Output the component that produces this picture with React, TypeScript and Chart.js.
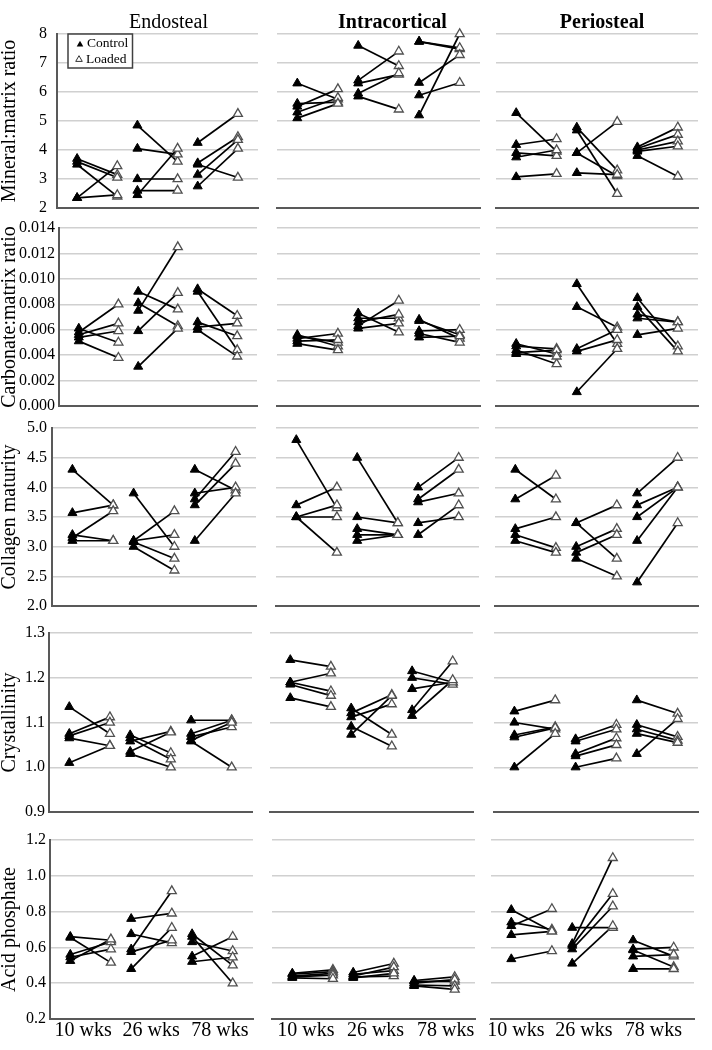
import React, { useEffect, useRef } from "react";
import { Chart, registerables } from "chart.js";

Chart.register(...registerables);

// ---------- labels ----------
const AGES = ["10 wks", "26 wks", "78 wks"];
const REGIONS = ["Endosteal", "Intracortical", "Periosteal"];
const MEASURES = [
  "Mineral:matrix ratio",
  "Carbonate:matrix ratio",
  "Collagen maturity",
  "Crystallinity",
  "Acid phosphate",
];
const LEGEND_LABELS = ["Control", "Loaded"];

// ---------- y-axis ticks ----------
const MINERAL_TICKS = [2, 3, 4, 5, 6, 7, 8];
const CARBONATE_TICKS = [0, 0.002, 0.004, 0.006, 0.008, 0.01, 0.012, 0.014];
const COLLAGEN_TICKS = [2.0, 2.5, 3.0, 3.5, 4.0, 4.5, 5.0];
const CRYSTAL_TICKS = [0.9, 1.0, 1.1, 1.2, 1.3];
const ACID_TICKS = [0.2, 0.4, 0.6, 0.8, 1.0, 1.2];
const TICK_DECIMALS = [0, 3, 1, 1, 1];

// ---------- data: [10 wks, 26 wks, 78 wks]; control[i] pairs with loaded[i] ----------
const MINERAL_ENDO_CONTROL = [[3.7, 3.6, 3.5, 2.35, 2.35], [4.85, 4.05, 3.0, 2.6, 2.45], [4.25, 3.55, 3.5, 3.15, 2.75]];
const MINERAL_ENDO_LOADED = [[3.15, 3.05, 2.4, 3.45, 2.45], [3.6, 3.85, 3.0, 2.6, 4.05], [5.25, 4.45, 3.05, 4.35, 4.05]];
const MINERAL_INTRA_CONTROL = [[6.3, 5.6, 5.5, 5.3, 5.1], [7.6, 6.4, 6.3, 5.95, 5.85], [7.74, 7.74, 6.32, 5.89, 5.2]];
const MINERAL_INTRA_LOADED = [[5.75, 5.65, 6.1, 5.8, 5.6], [6.9, 7.4, 6.6, 6.65, 5.4], [7.48, 7.52, 7.28, 6.32, 8.0]];
const MINERAL_PERI_CONTROL = [[5.28, 4.18, 3.9, 3.75, 3.07], [4.78, 4.68, 3.9, 3.9, 3.21], [4.1, 4.05, 4.0, 3.95, 3.8]];
const MINERAL_PERI_LOADED = [[3.95, 4.38, 3.8, 4.0, 3.18], [3.3, 2.49, 4.97, 3.1, 3.15], [4.78, 4.53, 4.3, 4.13, 3.09]];

const CARB_ENDO_CONTROL = [[0.0061, 0.0058, 0.0056, 0.0054, 0.0051], [0.009, 0.0081, 0.0075, 0.0059, 0.0031], [0.0092, 0.009, 0.0066, 0.0062, 0.006]];
const CARB_ENDO_LOADED = [[0.005, 0.008, 0.0065, 0.0059, 0.0038], [0.0076, 0.0063, 0.0125, 0.0089, 0.0061], [0.0071, 0.0044, 0.0055, 0.0065, 0.0039]];
const CARB_INTRA_CONTROL = [[0.0056, 0.0055, 0.0053, 0.0051, 0.0049], [0.0073, 0.0069, 0.0066, 0.0063, 0.0061], [0.0068, 0.0067, 0.0059, 0.0057, 0.0054]];
const CARB_INTRA_LOADED = [[0.0047, 0.005, 0.0057, 0.0052, 0.0044], [0.0058, 0.0069, 0.0072, 0.0083, 0.0065], [0.0053, 0.0056, 0.006, 0.005, 0.0055]];
const CARB_PERI_CONTROL = [[0.0049, 0.0047, 0.0044, 0.0042, 0.0041], [0.0096, 0.0078, 0.0045, 0.0043, 0.0011], [0.0085, 0.0078, 0.0072, 0.0069, 0.0056]];
const CARB_PERI_LOADED = [[0.0041, 0.0045, 0.0033, 0.0044, 0.0039], [0.0049, 0.0062, 0.006, 0.0052, 0.0045], [0.0047, 0.0043, 0.0066, 0.0066, 0.0061]];

const COLL_ENDO_CONTROL = [[4.3, 3.57, 3.2, 3.15, 3.1], [3.9, 3.1, 3.1, 3.08, 3.0], [4.3, 3.9, 3.8, 3.7, 3.1]];
const COLL_ENDO_LOADED = [[3.7, 3.7, 3.1, 3.6, 3.1], [3.0, 3.6, 3.2, 2.8, 2.6], [3.95, 4.0, 4.6, 4.4, 3.9]];
const COLL_INTRA_CONTROL = [[4.8, 3.7, 3.5, 3.5, 3.5], [4.5, 3.5, 3.3, 3.2, 3.1], [4.0, 3.8, 3.75, 3.4, 3.2]];
const COLL_INTRA_LOADED = [[3.65, 4.0, 3.7, 3.5, 2.9], [3.4, 3.4, 3.2, 3.2, 3.2], [4.5, 4.3, 3.9, 3.5, 3.7]];
const COLL_PERI_CONTROL = [[4.3, 3.8, 3.3, 3.2, 3.1], [3.4, 3.4, 3.0, 2.9, 2.8], [3.9, 3.7, 3.5, 3.1, 2.4]];
const COLL_PERI_LOADED = [[3.8, 4.2, 3.5, 2.98, 2.9], [3.7, 2.8, 3.3, 3.2, 2.5], [4.5, 4.0, 4.0, 4.0, 3.4]];

const CRYS_ENDO_CONTROL = [[1.135, 1.075, 1.07, 1.065, 1.01], [1.072, 1.065, 1.058, 1.035, 1.03], [1.105, 1.075, 1.068, 1.06, 1.058]];
const CRYS_ENDO_LOADED = [[1.075, 1.112, 1.1, 1.048, 1.048], [1.032, 1.018, 1.08, 1.078, 1.0], [1.105, 1.105, 1.09, 1.1, 1.0]];
const CRYS_INTRA_CONTROL = [[1.24, 1.19, 1.19, 1.185, 1.155], [1.132, 1.121, 1.112, 1.091, 1.073], [1.215, 1.2, 1.175, 1.128, 1.115]];
const CRYS_INTRA_LOADED = [[1.225, 1.21, 1.17, 1.16, 1.135], [1.073, 1.162, 1.141, 1.047, 1.16], [1.19, 1.185, 1.19, 1.237, 1.195]];
const CRYS_PERI_CONTROL = [[1.125, 1.1, 1.072, 1.067, 1.0], [1.063, 1.058, 1.03, 1.025, 1.0], [1.15, 1.095, 1.085, 1.075, 1.03]];
const CRYS_PERI_LOADED = [[1.15, 1.085, 1.09, 1.088, 1.075], [1.095, 1.085, 1.065, 1.05, 1.02], [1.12, 1.068, 1.06, 1.055, 1.108]];

const ACID_ENDO_CONTROL = [[0.66, 0.655, 0.56, 0.545, 0.525], [0.76, 0.675, 0.59, 0.575, 0.48], [0.675, 0.66, 0.63, 0.55, 0.52]];
const ACID_ENDO_LOADED = [[0.64, 0.515, 0.63, 0.59, 0.645], [0.79, 0.625, 0.915, 0.64, 0.71], [0.5, 0.4, 0.58, 0.66, 0.545]];
const ACID_INTRA_CONTROL = [[0.455, 0.45, 0.44, 0.435, 0.43], [0.46, 0.45, 0.44, 0.435, 0.43], [0.415, 0.41, 0.4, 0.39, 0.385]];
const ACID_INTRA_LOADED = [[0.475, 0.465, 0.455, 0.445, 0.425], [0.51, 0.47, 0.49, 0.44, 0.455], [0.435, 0.41, 0.42, 0.385, 0.365]];
const ACID_PERI_CONTROL = [[0.81, 0.74, 0.72, 0.67, 0.535], [0.71, 0.62, 0.61, 0.59, 0.51], [0.64, 0.59, 0.585, 0.55, 0.48]];
const ACID_PERI_LOADED = [[0.69, 0.7, 0.815, 0.69, 0.58], [0.71, 1.1, 0.9, 0.83, 0.72], [0.55, 0.6, 0.49, 0.56, 0.48]];

// ---------- tables built from the arrays ----------
const ROW_TICKS = [MINERAL_TICKS, CARBONATE_TICKS, COLLAGEN_TICKS, CRYSTAL_TICKS, ACID_TICKS];
const PANELS = [
  [[MINERAL_ENDO_CONTROL, MINERAL_ENDO_LOADED], [MINERAL_INTRA_CONTROL, MINERAL_INTRA_LOADED], [MINERAL_PERI_CONTROL, MINERAL_PERI_LOADED]],
  [[CARB_ENDO_CONTROL, CARB_ENDO_LOADED], [CARB_INTRA_CONTROL, CARB_INTRA_LOADED], [CARB_PERI_CONTROL, CARB_PERI_LOADED]],
  [[COLL_ENDO_CONTROL, COLL_ENDO_LOADED], [COLL_INTRA_CONTROL, COLL_INTRA_LOADED], [COLL_PERI_CONTROL, COLL_PERI_LOADED]],
  [[CRYS_ENDO_CONTROL, CRYS_ENDO_LOADED], [CRYS_INTRA_CONTROL, CRYS_INTRA_LOADED], [CRYS_PERI_CONTROL, CRYS_PERI_LOADED]],
  [[ACID_ENDO_CONTROL, ACID_ENDO_LOADED], [ACID_INTRA_CONTROL, ACID_INTRA_LOADED], [ACID_PERI_CONTROL, ACID_PERI_LOADED]],
];

// ---------- layout (positions on x scale 0..10, page pixels) ----------
const CONTROL_X = [1, 4, 7];
const LOADED_X = [3, 6, 9];
const X_LABEL_POS = [[1.63, 4.98, 8.37], [1.67, 5.1, 8.55], [1.23, 4.58, 8.0]];
const PLOT_Y = [[34, 208], [228, 406], [428, 606], [633, 812], [840, 1019]];
const PLOT_X = [
  [[57, 258], [277, 480], [496, 698]],
  [[59, 257], [277, 480], [496, 698]],
  [[52, 256], [276, 479], [495, 698]],
  [[49, 252], [270, 473], [494, 698]],
  [[50, 253], [272, 475], [491, 694]],
];
const Y_TICK_PAD = [10, 4, 5, 4, 4];
const TITLE_DX = [11, 14, 5];

const SERIF = "'Liberation Serif', 'DejaVu Serif', serif";
const GRID = "#d0d0d0";
const AXIS = "#595959";

const decorPlugin = {
  id: "panelDecor",
  afterDraw(chart: any, _args: any, opts: any) {
    const { ctx, chartArea } = chart;
    if (opts.title) {
      ctx.save();
      ctx.font = `${opts.bold ? "bold " : ""}20px ${SERIF}`;
      ctx.fillStyle = "#000";
      ctx.textAlign = "center";
      ctx.textBaseline = "alphabetic";
      ctx.fillText(opts.title, (chartArea.left + chartArea.right) / 2 + opts.dx, chartArea.top - 6.5);
      ctx.restore();
    }
    if (opts.legend) {
      const bx = chartArea.left + 11;
      const by = chartArea.top;
      ctx.save();
      ctx.fillStyle = "#fff";
      ctx.fillRect(bx, by, 64.5, 34);
      ctx.strokeStyle = "#404040";
      ctx.lineWidth = 1.5;
      ctx.strokeRect(bx, by, 64.5, 34);
      const tri = (cx: number, cy: number, filled: boolean) => {
        const r = 3.8;
        ctx.beginPath();
        ctx.moveTo(cx, cy - r);
        ctx.lineTo(cx + r * 0.866, cy + r * 0.5);
        ctx.lineTo(cx - r * 0.866, cy + r * 0.5);
        ctx.closePath();
        if (filled) {
          ctx.fillStyle = "#000";
          ctx.fill();
        } else {
          ctx.fillStyle = "#fff";
          ctx.fill();
          ctx.strokeStyle = "#333";
          ctx.lineWidth = 1;
          ctx.stroke();
        }
      };
      tri(bx + 12, by + 10.5, true);
      tri(bx + 11, by + 25.5, false);
      ctx.fillStyle = "#000";
      ctx.font = `13.5px ${SERIF}`;
      ctx.textAlign = "left";
      ctx.textBaseline = "middle";
      ctx.fillText(LEGEND_LABELS[0], bx + 19, by + 9);
      ctx.fillText(LEGEND_LABELS[1], bx + 18, by + 25);
      ctx.restore();
    }
  },
};

function Panel({ row, col }: { row: number; col: number }) {
  const ref = useRef<HTMLCanvasElement | null>(null);
  const [plotL, plotR] = PLOT_X[row][col];
  const [plotT, plotB] = PLOT_Y[row];
  const canvasL = col === 0 ? 0 : plotL - 8;
  const padL = col === 0 ? 0 : 8;
  const yW = col === 0 ? plotL : 0;
  const padR = 8;
  const canvasW = plotR + padR - canvasL;
  const topMargin = row === 0 ? plotT : 24;
  const canvasT = plotT - topMargin;
  const bottomMargin = row === 4 ? 30 : 22;
  const xH = row === 4 ? 26 : 0;
  const padB = bottomMargin - xH;
  const canvasH = plotB + bottomMargin - canvasT;

  useEffect(() => {
    const ticks = ROW_TICKS[row];
    const yMin = ticks[0];
    const yMax = ticks[ticks.length - 1];
    const [control, loaded] = PANELS[row][col];
    const datasets: any[] = [];
    const ctrlPts: any[] = [];
    const loadPts: any[] = [];
    control.forEach((vals: number[], a: number) => {
      vals.forEach((v: number, i: number) => {
        const p0 = { x: CONTROL_X[a], y: v };
        const p1 = { x: LOADED_X[a], y: loaded[a][i] };
        ctrlPts.push(p0);
        loadPts.push(p1);
        datasets.push({
          data: [p0, p1],
          borderColor: "#000",
          borderWidth: 1.7,
          pointRadius: 0,
          order: 2,
          clip: false,
        });
      });
    });
    datasets.push({
      label: LEGEND_LABELS[0],
      data: ctrlPts,
      showLine: false,
      pointStyle: "triangle",
      pointRadius: 5.2,
      pointBackgroundColor: "#000",
      pointBorderColor: "#000",
      pointBorderWidth: 1,
      order: 1,
      clip: false,
    });
    datasets.push({
      label: LEGEND_LABELS[1],
      data: loadPts,
      showLine: false,
      pointStyle: "triangle",
      pointRadius: 5.2,
      pointBackgroundColor: "#fff",
      pointBorderColor: "#505050",
      pointBorderWidth: 1.3,
      order: 0,
      clip: false,
    });

    const chart = new Chart(ref.current as HTMLCanvasElement, {
      type: "line",
      data: { datasets },
      plugins: [decorPlugin],
      options: {
        responsive: false,
        animation: false,
        devicePixelRatio: 1,
        events: [],
        layout: { padding: { left: padL, right: padR, top: topMargin, bottom: padB } },
        plugins: {
          legend: { display: false },
          tooltip: { enabled: false },
          panelDecor: {
            title: row === 0 ? REGIONS[col] : "",
            bold: col !== 0,
            dx: TITLE_DX[col],
            legend: row === 0 && col === 0,
          },
        } as any,
        scales: {
          x: {
            type: "linear",
            min: 0,
            max: 10,
            afterBuildTicks: (s: any) => {
              s.ticks = X_LABEL_POS[col].map((v) => ({ value: v }));
            },
            afterFit: (s: any) => {
              s.height = xH;
            },
            grid: { display: false, drawTicks: false, tickLength: 0 },
            border: { display: true, color: AXIS, width: 2 },
            ticks: {
              display: row === 4,
              autoSkip: false,
              maxRotation: 0,
              padding: 2,
              color: "#000",
              font: { family: SERIF, size: 20, lineHeight: 1 },
              callback: (_v: any, i: number) => AGES[i],
            },
          },
          y: {
            type: "linear",
            min: yMin,
            max: yMax,
            afterBuildTicks: (s: any) => {
              s.ticks = ticks.map((v) => ({ value: v }));
            },
            afterFit: (s: any) => {
              s.width = yW;
            },
            grid: {
              color: (c: any) => (c.tick && Math.abs(c.tick.value - yMin) < 1e-9 ? "rgba(0,0,0,0)" : GRID),
              lineWidth: 1.5,
              drawTicks: false,
              tickLength: 0,
            },
            border: { display: col === 0, color: AXIS, width: 2 },
            ticks: {
              display: col === 0,
              padding: Y_TICK_PAD[row],
              color: "#000",
              font: { family: SERIF, size: 16 },
              callback: (v: any) => Number(v).toFixed(TICK_DECIMALS[row]),
            },
            title: {
              display: col === 0,
              text: MEASURES[row],
              color: "#000",
              font: { family: SERIF, size: 20, lineHeight: 1 },
              padding: 0,
            },
          },
        },
      } as any,
    });
    return () => chart.destroy();
  }, [row, col]);

  return (
    <canvas
      ref={ref}
      width={canvasW}
      height={canvasH}
      style={{ position: "absolute", left: canvasL, top: canvasT, width: canvasW, height: canvasH }}
    />
  );
}

export default function App() {
  const cells: React.ReactNode[] = [];
  for (let r = 0; r < 5; r++) {
    for (let c = 0; c < 3; c++) {
      cells.push(<Panel key={`${r}-${c}`} row={r} col={c} />);
    }
  }
  return (
    <div
      style={{
        position: "absolute",
        left: 0,
        top: 0,
        width: 712,
        height: 1050,
        background: "#fff",
        overflow: "hidden",
      }}
    >
      {cells}
    </div>
  );
}
